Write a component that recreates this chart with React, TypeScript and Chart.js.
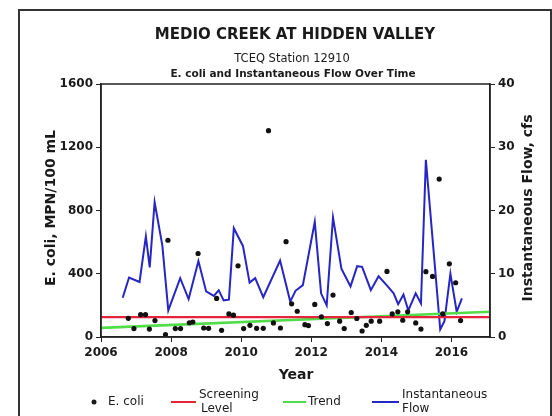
import React, { useEffect, useRef } from "react";
import { Chart, registerables } from "chart.js";

Chart.register(...registerables);

// ---- data ----
const flowYears = [
  2006.62, 2006.8, 2007.1, 2007.28, 2007.39, 2007.53, 2007.75, 2007.92, 2008.26, 2008.5,
  2008.78, 2009.0, 2009.22, 2009.36, 2009.5, 2009.65, 2009.79, 2010.05, 2010.24, 2010.4,
  2010.63, 2011.11, 2011.4, 2011.55, 2011.76, 2012.1, 2012.28, 2012.44, 2012.62, 2012.86,
  2013.12, 2013.31, 2013.45, 2013.7, 2013.92, 2014.15, 2014.35, 2014.48, 2014.63, 2014.77,
  2014.98, 2015.13, 2015.27, 2015.68, 2015.8, 2015.97, 2016.15, 2016.3,
];
const flowValues = [
  6.2, 9.4, 8.7, 15.9, 11.0, 21.3, 14.5, 4.2, 9.3, 6.0,
  12.0, 7.2, 6.5, 7.4, 5.8, 5.9, 17.2, 14.4, 8.6, 9.3,
  6.3, 12.1, 5.6, 7.3, 8.2, 18.2, 6.9, 5.0, 18.9, 10.8,
  8.0, 11.2, 11.1, 7.4, 9.6, 8.2, 6.9, 5.2, 6.7, 4.2,
  6.9, 5.3, 28.0, 1.2, 2.5, 10.0, 4.0, 6.1,
];

const ecoliYears = [
  2006.78, 2006.94, 2007.13, 2007.27, 2007.38, 2007.54, 2007.84, 2007.91, 2008.12, 2008.27,
  2008.52, 2008.62, 2008.77, 2008.93, 2009.07, 2009.3, 2009.44, 2009.65, 2009.78, 2009.91,
  2010.07, 2010.25, 2010.44, 2010.63, 2010.78, 2010.92, 2011.12, 2011.28, 2011.44, 2011.6,
  2011.82, 2011.92, 2012.1, 2012.29, 2012.46, 2012.62, 2012.81, 2012.94, 2013.14, 2013.3,
  2013.45, 2013.57, 2013.71, 2013.95, 2014.16, 2014.31, 2014.47, 2014.61, 2014.75, 2014.98,
  2015.13, 2015.27, 2015.46, 2015.65, 2015.75, 2015.94, 2016.12, 2016.26,
];
const ecoliValues = [
  118, 53, 142, 142, 50, 104, 15, 612, 53, 53,
  90, 95, 528, 57, 55, 244, 42, 146, 138, 450,
  53, 74, 55, 55, 1305, 89, 57, 603, 210, 163,
  78, 72, 206, 128, 85, 265, 100, 53, 155, 117,
  38, 74, 100, 100, 415, 146, 159, 106, 159, 89,
  50, 413, 383, 999, 146, 463, 343, 104,
];

const screeningLevel = 126;
const trendYears = [2006, 2017.1];
const trendValues = [58, 160];

const xMin = 2006;
const xMax = 2017.1;
const xTicks = [2006, 2008, 2010, 2012, 2014, 2016];
const yTicks = [0, 400, 800, 1200, 1600];
const y1Ticks = [0, 10, 20, 30, 40];

const titleText = "MEDIO CREEK AT HIDDEN VALLEY";
const subtitleText = "TCEQ Station 12910";
const subtitle2Text = "E. coli and Instantaneous Flow Over Time";
const yTitle = "E. coli, MPN/100 mL";
const y1Title = "Instantaneous Flow, cfs";
const xTitle = "Year";

const RED = "#e4243a";
const GREEN = "#52dc4a";
const BLUE = "#2626c4";
const FONT = "'DejaVu Sans', sans-serif";

const decor = {
  id: "decor",
  beforeDraw(chart: any) {
    const ctx = chart.ctx;
    ctx.save();
    ctx.fillStyle = "#fff";
    ctx.fillRect(0, 0, chart.width, chart.height);
    ctx.restore();
  },
  afterDraw(chart: any) {
    const ctx = chart.ctx as CanvasRenderingContext2D;
    const a = chart.chartArea;
    ctx.save();
    // plot frame
    ctx.strokeStyle = "#222";
    ctx.lineWidth = 1.5;
    ctx.strokeRect(a.left, a.top, a.right - a.left, a.bottom - a.top);
    // outer frame
    ctx.strokeStyle = "#333";
    ctx.lineWidth = 2;
    ctx.beginPath();
    ctx.moveTo(19, 420);
    ctx.lineTo(19, 10);
    ctx.lineTo(551, 10);
    ctx.lineTo(551, 420);
    ctx.stroke();

    ctx.fillStyle = "#1a1a1a";
    ctx.textAlign = "center";
    ctx.textBaseline = "middle";
    ctx.font = `bold 15px ${FONT}`;
    ctx.fillText(titleText, 295, 35);
    ctx.font = `11.5px ${FONT}`;
    ctx.fillText(subtitleText, 292, 59);
    ctx.font = `bold 10.5px ${FONT}`;
    ctx.fillText(subtitle2Text, 293, 74);

    // axis titles
    ctx.font = `bold 14px ${FONT}`;
    ctx.fillText(xTitle, 296, 375);
    ctx.save();
    ctx.translate(51, 208);
    ctx.rotate(-Math.PI / 2);
    ctx.fillText(yTitle, 0, 0);
    ctx.restore();
    ctx.save();
    ctx.translate(528, 208);
    ctx.rotate(-Math.PI / 2);
    ctx.fillText(y1Title, 0, 0);
    ctx.restore();

    // legend
    const ly = 402;
    ctx.font = `12px ${FONT}`;
    ctx.textAlign = "left";
    ctx.beginPath();
    ctx.arc(94, ly, 2.5, 0, Math.PI * 2);
    ctx.fill();
    ctx.fillText("E. coli", 108, ly);

    ctx.lineWidth = 2;
    ctx.strokeStyle = RED;
    ctx.beginPath();
    ctx.moveTo(171, ly);
    ctx.lineTo(196, ly);
    ctx.stroke();
    ctx.fillText("Screening", 199, ly - 7);
    ctx.fillText("Level", 201, ly + 7);

    ctx.strokeStyle = GREEN;
    ctx.beginPath();
    ctx.moveTo(283, ly);
    ctx.lineTo(306, ly);
    ctx.stroke();
    ctx.fillText("Trend", 308, ly);

    ctx.strokeStyle = BLUE;
    ctx.beginPath();
    ctx.moveTo(372, ly);
    ctx.lineTo(399, ly);
    ctx.stroke();
    ctx.fillText("Instantaneous", 402, ly - 7);
    ctx.fillText("Flow", 402, ly + 7);
    ctx.restore();
  },
};

export default function App() {
  const ref = useRef<HTMLCanvasElement>(null);
  useEffect(() => {
    const tickFont = { family: FONT, size: 12, weight: "bold" as const };
    const axisCommon = {
      grid: {
        display: true,
        drawOnChartArea: false,
        drawTicks: true,
        tickLength: 5,
        color: "#222",
        lineWidth: 1,
      },
      border: { display: true, color: "#222", width: 1.5 },
    };
    const chart = new Chart(ref.current as HTMLCanvasElement, {
      type: "line",
      data: {
        datasets: [
          {
            label: "E. coli",
            type: "scatter",
            data: ecoliYears.map((x, i) => ({ x, y: ecoliValues[i] })),
            xAxisID: "x",
            yAxisID: "y",
            pointRadius: 2.6,
            pointBackgroundColor: "#111",
            pointBorderColor: "#111",
            pointBorderWidth: 0,
            showLine: false,
          } as any,
          {
            label: "Screening Level",
            data: [
              { x: xMin, y: screeningLevel },
              { x: xMax, y: screeningLevel },
            ],
            xAxisID: "x",
            yAxisID: "y",
            borderColor: RED,
            borderWidth: 2.2,
            pointRadius: 0,
          },
          {
            label: "Trend",
            data: trendYears.map((x, i) => ({ x, y: trendValues[i] })),
            xAxisID: "x",
            yAxisID: "y",
            borderColor: GREEN,
            borderWidth: 2.6,
            pointRadius: 0,
          },
          {
            label: "Instantaneous Flow",
            data: flowYears.map((x, i) => ({ x, y: flowValues[i] })),
            xAxisID: "x",
            yAxisID: "y1",
            borderColor: BLUE,
            borderWidth: 2,
            pointRadius: 0,
            tension: 0,
          },
        ],
      },
      options: {
        responsive: false,
        devicePixelRatio: 1,
        animation: false,
        layout: { padding: { top: 84, left: 0, right: 0, bottom: 0 } },
        plugins: {
          legend: { display: false },
          tooltip: { enabled: false },
          title: { display: false },
        },
        scales: {
          x: {
            type: "linear",
            min: xMin,
            max: xMax,
            ...axisCommon,
            afterBuildTicks: (s: any) => {
              s.ticks = xTicks.map((v) => ({ value: v }));
            },
            afterFit: (s: any) => {
              s.height = 79;
            },
            ticks: {
              font: tickFont,
              color: "#1a1a1a",
              padding: 4,
              maxRotation: 0,
              autoSkip: false,
              callback: (v: any) => String(v),
            },
          },
          y: {
            type: "linear",
            position: "left",
            min: 0,
            max: 1600,
            ...axisCommon,
            afterBuildTicks: (s: any) => {
              s.ticks = yTicks.map((v) => ({ value: v }));
            },
            afterFit: (s: any) => {
              s.width = 101;
            },
            ticks: {
              font: tickFont,
              color: "#1a1a1a",
              padding: 3,
              callback: (v: any) => String(v),
            },
          },
          y1: {
            type: "linear",
            position: "right",
            min: 0,
            max: 40,
            ...axisCommon,
            afterBuildTicks: (s: any) => {
              s.ticks = y1Ticks.map((v) => ({ value: v }));
            },
            afterFit: (s: any) => {
              s.width = 62;
            },
            ticks: {
              font: tickFont,
              color: "#1a1a1a",
              padding: 3,
              callback: (v: any) => String(v),
            },
          },
        },
      },
      plugins: [decor],
    });
    return () => chart.destroy();
  }, []);
  return (
    <div
      style={{
        position: "fixed",
        left: 0,
        top: 0,
        width: 552,
        height: 416,
        background: "#fff",
      }}
    >
      <canvas
        ref={ref}
        width={552}
        height={416}
        style={{ display: "block", width: 552, height: 416 }}
      />
    </div>
  );
}
